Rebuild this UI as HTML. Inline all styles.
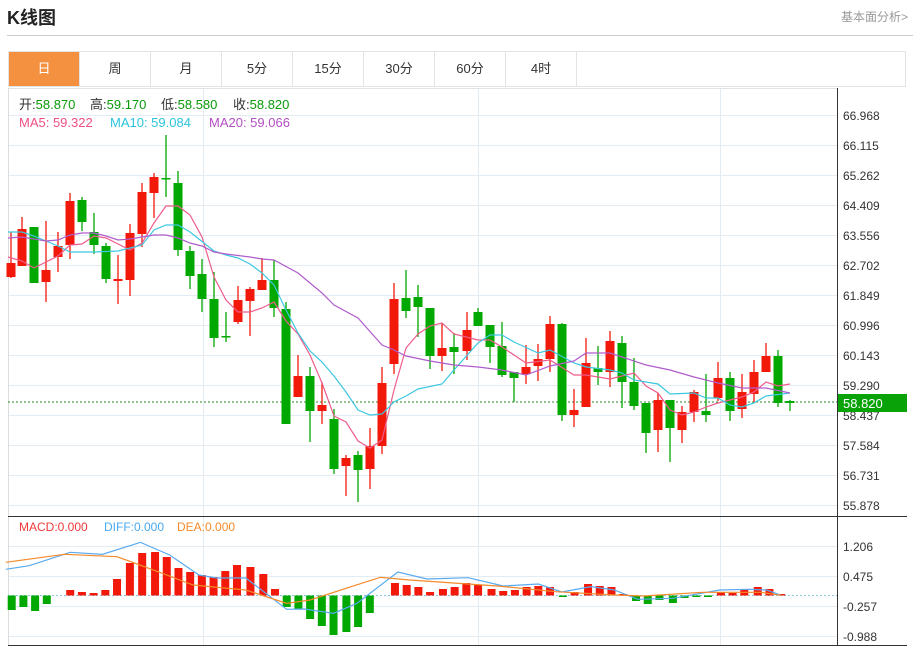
<!DOCTYPE html><html><head><meta charset="utf-8"><style>
body{margin:0;width:913px;height:647px;background:#fff;font-family:"Liberation Sans","Noto Sans CJK SC",sans-serif;overflow:hidden;position:relative}
.t{position:absolute;left:7px;top:4px;font-size:18px;font-weight:bold;color:#222}
.r{position:absolute;right:5px;top:8px;font-size:12px;color:#999}
.sep{position:absolute;left:7px;top:35px;width:906px;height:1px;background:#ccc}
.tabs{position:absolute;left:8px;top:51px;width:898px;height:36px;border:1px solid #e3e3e3;box-sizing:border-box;display:flex}
.tabs div{width:70px;border-right:1px solid #e3e3e3;text-align:center;line-height:34px;font-size:13px;color:#333}
.tabs div.a{background:#f39141;color:#fff}
svg{position:absolute;left:0;top:0}
</style></head><body>
<div class="t">K线图</div><div class="r">基本面分析&gt;</div><div class="sep"></div>
<div class="tabs"><div class="a">日</div><div>周</div><div>月</div><div>5分</div><div>15分</div><div>30分</div><div>60分</div><div>4时</div></div>
<svg width="913" height="647" id="s" font-family="Liberation Sans, Noto Sans CJK SC, sans-serif" font-size="12">
<g id="grid" stroke="#e3ecf3" stroke-width="1"></g>
<line x1="8.5" y1="88" x2="8.5" y2="646" stroke="#ddd"/>
<line x1="837.5" y1="88" x2="837.5" y2="646" stroke="#333"/>
<line x1="8" y1="516.5" x2="907" y2="516.5" stroke="#333"/>
<line x1="8" y1="645.5" x2="907" y2="645.5" stroke="#333"/>
<line x1="8" y1="402" x2="837" y2="402" stroke="#2a8a2a" stroke-dasharray="2,2"/>
<line x1="8" y1="595.5" x2="837" y2="595.5" stroke="#8cc8e0" stroke-dasharray="2,2"/>
<g id="c"></g>
<g fill="#333" font-size="12">
<text x="843" y="120">66.968</text><text x="843" y="150">66.115</text><text x="843" y="180">65.262</text><text x="843" y="210">64.409</text><text x="843" y="240">63.556</text><text x="843" y="270">62.702</text><text x="843" y="300">61.849</text><text x="843" y="330">60.996</text><text x="843" y="360">60.143</text><text x="843" y="390">59.290</text><text x="843" y="420">58.437</text><text x="843" y="450">57.584</text><text x="843" y="480">56.731</text><text x="843" y="510">55.878</text>
<text x="843" y="551">1.206</text><text x="843" y="581">0.475</text><text x="843" y="611">-0.257</text><text x="843" y="641">-0.988</text>
</g>
<rect x="838" y="394" width="69" height="18" fill="#09a309"/><text x="843" y="408" fill="#fff" font-size="13">58.820</text>
<g font-size="13" fill="#333">
<text x="19" y="109">开:<tspan fill="#0a9a0a">58.870</tspan></text>
<text x="90" y="109">高:<tspan fill="#0a9a0a">59.170</tspan></text>
<text x="161" y="109">低:<tspan fill="#0a9a0a">58.580</tspan></text>
<text x="233" y="109">收:<tspan fill="#0a9a0a">58.820</tspan></text>
<text x="19" y="127" fill="#ef4f84">MA5: 59.322</text>
<text x="110" y="127" fill="#2bc4dc">MA10: 59.084</text>
<text x="209" y="127" fill="#b44fc4">MA20: 59.066</text>
</g>
<g font-size="12">
<text x="19" y="531" fill="#f03a3a">MACD:0.000</text>
<text x="104" y="531" fill="#4aa8ee">DIFF:0.000</text>
<text x="177" y="531" fill="#f58a2a">DEA:0.000</text>
</g>
</svg>
<script>
var NS="http://www.w3.org/2000/svg",g=document.getElementById('c'),gr=document.getElementById('grid');
function el(t,a,p){var e=document.createElementNS(NS,t);for(var k in a)e.setAttribute(k,a[k]);(p||g).appendChild(e);return e}
for(var y=115;y<=506;y+=30)el('line',{x1:8,x2:837,y1:y+.5,y2:y+.5},gr);
[546,576,606,636].forEach(function(y){el('line',{x1:8,x2:837,y1:y+.5,y2:y+.5},gr)});
[203,478,720].forEach(function(x){el('line',{x1:x+.5,x2:x+.5,y1:88,y2:645},gr)});
el('line',{x1:8,x2:837,y1:88.5,y2:88.5,stroke:'#e3e3e3'},gr);
var C=[[11,263,277,232,278,1],[22,229,266,217,266,1],[34,227,283,227,283,0],[46,270,282,221,302,1],[58,246,257,232,272,1],[70,201,245,193,259,1],[82,200,222,197,231,0],[94,232,245,213,254,0],[106,246,279,243,283,0],[118,279,281,255,304,1],[130,233,280,224,296,1],[142,192,234,183,247,1],[154,177,193,173,218,1],[166,178,179,135,197,0],[178,183,250,171,256,0],[190,251,276,246,289,0],[202,274,299,259,312,0],[214,299,338,272,347,0],[226,336,337,312,342,0],[238,300,322,286,324,1],[250,289,301,287,336,1],[262,280,290,258,290,1],[274,280,308,260,317,0],[286,309,424,302,424,0],[298,376,397,355,397,1],[310,376,411,367,442,0],[322,405,411,382,424,1],[334,419,469,409,474,0],[346,458,466,455,496,1],[358,455,470,451,502,0],[370,446,469,428,489,1],[382,383,446,367,454,1],[394,299,364,283,374,1],[406,298,311,270,318,0],[418,297,307,285,337,0],[430,308,356,308,369,0],[442,348,356,323,371,1],[454,347,352,333,374,0],[467,330,351,312,360,1],[478,312,326,308,326,0],[490,325,347,325,363,0],[502,346,375,322,377,0],[514,372,378,372,402,0],[526,367,374,345,384,1],[538,359,366,344,381,1],[550,324,359,316,372,1],[562,324,415,323,421,0],[574,410,415,389,427,1],[586,363,407,338,407,1],[598,368,372,346,385,0],[610,341,372,331,387,1],[622,343,382,336,408,0],[634,382,406,358,410,0],[646,403,433,403,453,0],[658,400,430,393,452,1],[670,400,428,400,462,0],[682,412,430,406,443,1],[694,392,412,390,422,1],[706,411,415,374,422,0],[718,378,398,362,401,1],[730,378,411,372,421,0],[742,392,409,374,418,1],[754,372,394,360,402,1],[766,356,372,343,372,1],[778,356,403,350,407,0],[790,401,403,400,411,0]];
C.forEach(function(c){var col=c[5]?'#f2190a':'#00a800';el('line',{x1:c[0],x2:c[0],y1:c[3],y2:c[4],stroke:col,'stroke-width':1.3});el('rect',{x:c[0]-4.5,y:c[1],width:9,height:Math.max(1.5,c[2]-c[1]),fill:col})});
function pl(pts,col){el('polyline',{points:pts.map(function(p){return p.join(',')}).join(' '),fill:'none',stroke:col,'stroke-width':1.2})}
pl([[8,257],[22,261],[34,268],[58,256],[70,245],[82,244],[94,236],[106,238],[130,250],[142,243],[154,223],[166,206],[178,206],[190,215],[202,237],[214,277],[226,300],[238,312],[250,312],[262,308],[274,302],[286,321],[298,334],[310,355],[322,383],[334,416],[346,422],[358,441],[370,448],[382,440],[394,390],[406,348],[418,334],[430,326],[442,323],[454,334],[478,340],[490,340],[502,347],[526,363],[550,360],[574,375],[586,375],[610,379],[634,373],[646,386],[658,393],[670,410],[682,415],[694,412],[706,407],[718,403],[730,400],[742,397],[754,392],[766,382],[778,386],[790,384]],'#ef5c8c');
pl([[8,232],[22,232],[34,236],[58,246],[70,252],[94,252],[118,251],[142,245],[154,230],[166,225],[178,225],[190,232],[214,251],[226,255],[238,258],[250,264],[262,273],[274,285],[286,310],[298,333],[310,351],[322,362],[334,376],[346,392],[358,410],[370,415],[382,414],[394,402],[406,396],[418,389],[442,384],[454,370],[478,343],[490,335],[502,335],[514,342],[538,353],[550,350],[574,363],[586,367],[610,370],[622,373],[634,380],[658,384],[670,394],[694,393],[706,398],[718,398],[730,405],[742,407],[754,403],[766,396],[790,393]],'#3cc8e0');
pl([[8,238],[22,237],[46,241],[58,240],[70,235],[82,233],[94,233],[106,236],[118,240],[130,239],[142,237],[154,235],[166,235],[178,238],[190,243],[202,246],[214,252],[226,254],[250,257],[262,259],[274,260],[298,273],[322,293],[334,305],[358,318],[382,345],[394,350],[406,356],[430,361],[454,365],[478,367],[502,370],[526,375],[550,366],[574,361],[586,353],[610,353],[622,357],[646,365],[670,370],[694,377],[718,383],[742,388],[766,388],[790,393]],'#b05ccc');
var B=[[20,610],[40,607],[60,611],[80,604],[120,590],[140,592],[160,593],[180,590],[200,579],[222,563],[243,553],[265,552],[285,557],[305,568],[325,572],[345,575],[365,577],[385,571],[405,565],[428,567],[450,574],[470,589],[490,607],[510,609],[530,619],[550,626],[570,635],[592,632],[612,627],[632,613],[675,583],[695,585],[715,587],[735,592],[757,589],[777,587],[797,583],[817,585],[840,589],[860,591],[880,590],[900,587],[920,586],[940,587],[962,597],[982,592],[1005,584],[1025,586],[1045,587],[1065,594],[1087,601],[1107,604],[1127,600],[1150,603],[1170,598],[1190,597],[1210,597],[1232,592],[1252,593],[1272,589],[1295,587],[1315,589],[1335,594]];
B.forEach(function(b){var x=b[0]/1.709,z=595.5,up=b[1]<z;el('rect',{x:x-4,y:up?b[1]:z,width:8,height:Math.abs(b[1]-z),fill:up?'#f2190a':'#00a800'})});
function ml(pts,col){pl(pts.map(function(p){return [p[0]/1.709,p[1]/3+510]}),col)}
ml([[10,178],[50,167],[120,127],[175,133],[240,97],[290,135],[340,195],[370,204],[420,204],[490,298],[520,297],[570,310],[610,280],[680,186],[730,207],[800,203],[860,228],[920,222],[960,246],[1010,230],[1050,240],[1090,268],[1150,265],[1230,240],[1280,238],[1310,240],[1335,256]],'#5aaaf0');
ml([[10,157],[110,133],[200,140],[270,185],[330,225],[420,240],[490,280],[530,270],[600,230],[650,202],[700,210],[850,228],[950,245],[1050,255],[1100,258],[1200,247],[1300,247],[1335,256]],'#f58a2a');
</script>
</body></html>
